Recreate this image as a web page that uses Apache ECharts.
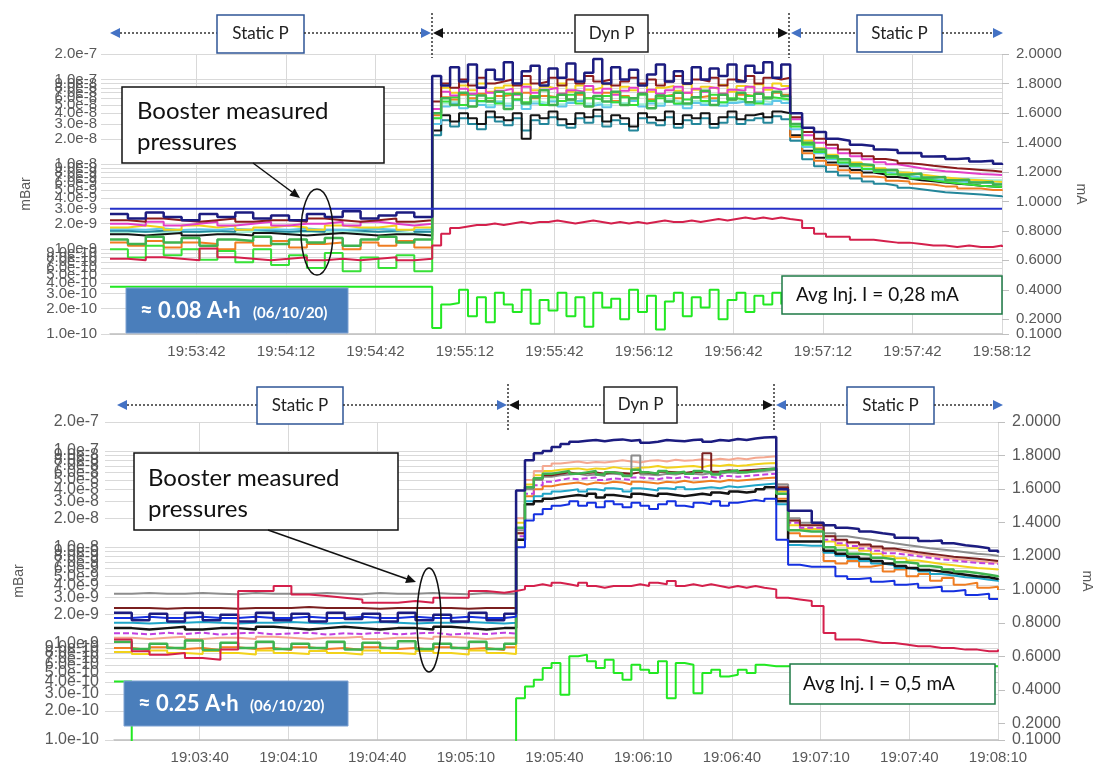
<!DOCTYPE html>
<html>
<head>
<meta charset="utf-8">
<title>Booster measured pressures</title>
<script src="https://cdn.jsdelivr.net/npm/echarts@6/dist/echarts.min.js"></script>
<style>
html, body { margin: 0; padding: 0; background: #fff; }
#main { width: 1102px; height: 770px; }
</style>
</head>
<body>
<div id="main"></div>
<script>
// seconds from the first sample of each plot
var topStart = 19 * 3600 + 53 * 60 + 13;   // 19:53:13
var botStart = 19 * 3600 + 3 * 60 + 11;    // 19:03:11
var timeTicks = [29, 59, 89, 119, 149, 179, 209, 239, 269, 299];
var pressureTicks = [2e-7, 1e-7, 9e-8, 8e-8, 7e-8, 6e-8, 5e-8, 4e-8, 3e-8, 2e-8,
    1e-8, 9e-9, 8e-9, 7e-9, 6e-9, 5e-9, 4e-9, 3e-9, 2e-9,
    1e-9, 9e-10, 8e-10, 7e-10, 6e-10, 5e-10, 4e-10, 3e-10, 2e-10, 1e-10];
var currentTicks = [0.1, 0.2, 0.4, 0.6, 0.8, 1.0, 1.2, 1.4, 1.6, 1.8, 2.0];

var topTimes = [0, 6, 12, 18, 24, 30, 36, 42, 48, 54, 60, 66, 72, 78, 84, 90, 96, 102,
    108, 111, 114, 117, 120, 123, 126, 129, 132, 135, 138, 141, 144, 147, 150, 153, 156, 159, 162, 165,
    168, 171, 174, 177, 180, 183, 186, 189, 192, 195, 198, 201, 204, 207, 210, 213, 216, 219, 222, 225,
    228, 232, 236, 240, 244, 248, 252, 256, 260, 264, 268, 272, 276, 280, 284, 288, 292, 296, 299];
var botTimes = [0, 6, 12, 18, 24, 30, 36, 42, 48, 54, 60, 66, 72, 78, 84, 90, 96, 102, 108, 114, 120, 126, 132,
    136, 139, 142, 145, 148, 151, 154, 157, 160, 163, 166, 169, 172, 175, 178, 181, 184, 187, 190, 193,
    196, 199, 202, 205, 208, 211, 214, 217, 220,
    224, 228, 232, 236, 240, 244, 248, 252, 256, 260, 264, 268, 272, 276, 280, 284, 288, 292, 296, 299];
var flatTimes = [0, 299];

// ---- 06/10/20 19:53 run, pressures in 1e-9 mBar ----
var topNavy = [2.6, 2.3, 2.7, 2.4, 2.2, 2.6, 2.4, 2.7, 2.3, 2.5, 2.2, 2.6, 2.4, 2.8, 2.3, 2.5, 2.7, 2.4,
    110, 85, 140, 95, 150, 80, 130, 100, 160, 90, 125, 145, 85, 135, 105, 155, 95, 120, 175, 90,
    140, 100, 130, 85, 115, 150, 95, 125, 90, 140, 100, 135, 110, 150, 95, 145, 120, 160, 105, 150,
    40, 27, 24, 20, 19, 17, 16.5, 15, 14.8, 13.6, 13.6, 12.4, 12.5, 11.6, 11.8, 10.8, 11, 10.2, 9.8];
var topDarkRed = [2.2, 2.1, 2.3, 2.2, 2.1, 2.2, 2.3, 2.1, 2.2, 2.2, 2.1, 2.3, 2.2, 2.1, 2.2, 2.3, 2.1, 2.2,
    55, 90, 80, 100, 85, 105, 90, 95, 100, 85, 110, 90, 95, 105, 85, 100, 90, 110, 95, 100,
    85, 95, 105, 90, 100, 85, 95, 110, 90, 100, 95, 105, 85, 100, 95, 110, 90, 105, 100, 105,
    36, 24, 20, 17, 15, 13.5, 12.5, 11.6, 11, 10.3, 10, 9.6, 9.3, 9, 8.8, 8.6, 8.4, 8.2, 8.1];
var topMagenta = [2.0, 1.9, 2.1, 1.9, 2.0, 2.1, 1.9, 2.0, 2.1, 1.9, 2.0, 2.0, 2.1, 1.9, 2.1, 2.0, 1.9, 2.0,
    45, 72, 65, 78, 68, 80, 70, 74, 78, 66, 82, 70, 76, 80, 68, 75, 72, 84, 70, 78,
    66, 74, 80, 70, 76, 68, 75, 82, 70, 78, 72, 80, 68, 76, 74, 82, 70, 80, 76, 80,
    34, 22, 18, 15.5, 13.5, 12.5, 11.5, 10.6, 10, 9.5, 9, 8.6, 8.3, 8.1, 7.9, 7.7, 7.6, 7.5, 7.4];
var topYellow = [1.8, 1.9, 1.8, 1.7, 1.9, 1.8, 1.9, 1.7, 1.8, 1.9, 1.8, 1.7, 1.9, 1.8, 1.8, 1.9, 1.7, 1.8,
    45, 80, 70, 85, 75, 90, 72, 80, 85, 70, 88, 75, 82, 78, 90, 72, 85, 76, 80, 88,
    70, 82, 75, 86, 72, 80, 84, 74, 88, 76, 82, 78, 86, 72, 84, 80, 88, 76, 90, 84,
    30, 19, 15.5, 13, 11.5, 10.5, 9.6, 9, 8.5, 8, 7.6, 7.3, 7, 6.8, 6.6, 6.5, 6.3, 6.2, 6.1];
var topGreen = [1.3, 1.15, 1.4, 1.2, 1.35, 1.1, 1.3, 1.25, 1.4, 1.15, 1.3, 1.2, 1.35, 1.1, 1.3, 1.4, 1.2, 1.3,
    40, 60, 50, 70, 48, 65, 55, 72, 45, 68, 52, 62, 75, 50, 66, 58, 70, 48, 64, 55,
    72, 50, 60, 68, 46, 65, 55, 70, 52, 62, 74, 50, 66, 58, 70, 54, 68, 60, 72, 64,
    30, 18, 15, 12.5, 11.5, 10, 9.8, 8.6, 8.6, 7.6, 7.8, 7, 7.1, 6.5, 6.6, 6.1, 6.2, 5.8, 5.9];
var topAqua = [1.58, 1.6, 1.55, 1.6, 1.58, 1.62, 1.56, 1.6, 1.58, 1.55, 1.6, 1.58, 1.62, 1.56, 1.6, 1.58, 1.55, 1.6,
    35, 52, 55, 50, 58, 54, 50, 56, 52, 58, 50, 55, 53, 57, 51, 55, 58, 52, 54, 50,
    56, 53, 58, 51, 55, 52, 57, 54, 50, 56, 53, 58, 52, 55, 57, 53, 56, 54, 58, 56,
    28, 18, 14.5, 12.5, 11, 10.2, 9.4, 8.8, 8.3, 7.9, 7.5, 7.2, 7, 6.8, 6.7, 6.6, 6.5, 6.5, 6.4];
var topSky = [1.72, 1.7, 1.75, 1.68, 1.72, 1.7, 1.74, 1.68, 1.72, 1.7, 1.75, 1.7, 1.68, 1.72, 1.74, 1.7, 1.68, 1.72,
    30, 48, 52, 46, 56, 50, 47, 54, 49, 57, 45, 52, 50, 55, 48, 53, 56, 49, 51, 47,
    54, 50, 56, 48, 52, 49, 55, 51, 46, 53, 50, 56, 49, 53, 55, 50, 54, 51, 56, 53,
    26, 16, 13.5, 11.5, 10.2, 9.4, 8.7, 8.1, 7.7, 7.3, 7, 6.7, 6.5, 6.3, 6.2, 6.1, 6, 5.9, 5.9];
var topTeal = [1.65, 1.6, 1.65, 1.7, 1.6, 1.65, 1.6, 1.7, 1.65, 1.6, 1.65, 1.6, 1.7, 1.65, 1.6, 1.65, 1.7, 1.6,
    22, 33, 28, 35, 30, 26, 36, 32, 29, 35, 25, 33, 30, 36, 29, 27, 35, 31, 37, 28,
    33, 30, 25, 35, 31, 29, 36, 27, 33, 30, 35, 27, 31, 36, 30, 33, 35, 31, 37, 34,
    19, 11.5, 9.5, 8.2, 7.4, 6.8, 6.3, 5.9, 5.6, 5.3, 5.1, 4.9, 4.7, 4.6, 4.5, 4.4, 4.3, 4.2, 4.1];
var topBlack = [1.5, 1.45, 1.5, 1.55, 1.45, 1.5, 1.5, 1.45, 1.55, 1.5, 1.45, 1.5, 1.55, 1.5, 1.45, 1.5, 1.5, 1.45,
    25, 38, 32, 40, 35, 30, 42, 36, 33, 40, 20, 38, 35, 42, 34, 30, 40, 36, 44, 32,
    38, 35, 28, 40, 36, 33, 42, 30, 38, 35, 40, 30, 36, 42, 34, 38, 40, 36, 42, 40,
    22, 14.5, 12, 10.5, 9.5, 8.6, 8, 7.6, 7.1, 6.8, 6.5, 6.3, 6.1, 5.9, 5.8, 5.6, 5.5, 5.4, 5.4];
var topOrange = [1.2, 1.1, 1.25, 1.05, 1.2, 1.15, 1.0, 1.2, 1.1, 1.25, 1.05, 1.15, 1.2, 1.0, 1.2, 1.1, 1.25, 1.05,
    38, 62, 58, 66, 60, 68, 56, 64, 66, 58, 70, 60, 64, 62, 68, 58, 66, 60, 64, 70,
    56, 64, 60, 68, 58, 64, 66, 60, 70, 62, 64, 60, 68, 58, 66, 64, 70, 60, 70, 66,
    21, 13.5, 11, 9.8, 8.5, 8, 7.2, 7, 6.4, 6.3, 5.9, 5.8, 5.5, 5.5, 5.2, 5.2, 5, 5, 4.9];
var topLime = [1.0, 0.8, 1.1, 0.85, 1.0, 0.75, 0.95, 0.7, 1.0, 0.65, 0.85, 0.6, 0.9, 0.55, 0.8, 0.6, 0.85, 0.55,
    35, 55, 62, 50, 66, 56, 60, 52, 68, 58, 54, 64, 50, 62, 56, 66, 52, 60, 58, 64,
    54, 62, 50, 66, 56, 60, 64, 52, 58, 62, 56, 66, 54, 60, 58, 64, 52, 62, 60, 58,
    28, 17, 14, 12, 10.5, 9.6, 8.8, 8.2, 7.6, 7.2, 6.8, 6.5, 6.2, 6, 5.8, 5.6, 5.5, 5.4, 5.3];
// currents in mA
var topRed = [0.61, 0.60, 0.62, 0.61, 0.60, 0.68, 0.62, 0.61, 0.60, 0.61, 0.62, 0.60, 0.61, 0.60, 0.61, 0.62, 0.60, 0.61,
    0.70, 0.78, 0.82, 0.83, 0.84, 0.84, 0.85, 0.84, 0.85, 0.86, 0.85, 0.86, 0.86, 0.87, 0.86, 0.85, 0.86, 0.87, 0.86, 0.85,
    0.86, 0.85, 0.86, 0.85, 0.86, 0.87, 0.86, 0.86, 0.87, 0.86, 0.87, 0.88, 0.87, 0.88, 0.89, 0.88, 0.89, 0.88, 0.89, 0.88,
    0.87, 0.82, 0.78, 0.76, 0.76, 0.74, 0.74, 0.73, 0.72, 0.72, 0.71, 0.70, 0.70, 0.69, 0.70, 0.69, 0.69, 0.70, 0.69];
var topInjection = [0.42, 0.42, 0.42, 0.42, 0.42, 0.42, 0.42, 0.42, 0.42, 0.42, 0.42, 0.42, 0.42, 0.42, 0.42, 0.42, 0.42, 0.42,
    0.14, 0.30, 0.31, 0.40, 0.22, 0.35, 0.18, 0.38, 0.30, 0.25, 0.40, 0.17, 0.33, 0.26, 0.38, 0.22, 0.35, 0.15, 0.38, 0.28,
    0.34, 0.20, 0.40, 0.25, 0.36, 0.13, 0.32, 0.38, 0.22, 0.35, 0.28, 0.40, 0.20, 0.33, 0.38, 0.25, 0.36, 0.30, 0.38, 0.30];
var topBlue = [0.95, 0.95];

// ---- 06/10/20 19:03 run, pressures in 1e-9 mBar ----
var botNavy = [2.1, 1.75, 2.05, 1.7, 2.1, 1.75, 2.0, 1.7, 2.1, 1.75, 2.05, 1.7, 2.1, 1.8, 2.05, 1.7, 2.1, 1.75, 2.0, 1.7, 2.1, 1.75, 2.05,
    39, 80, 95, 100, 110, 118, 125, 128, 130, 126, 130, 132, 128, 130, 122, 125, 130, 128, 126, 130, 132, 125, 130, 128, 133, 130, 135, 138, 140,
    40, 24, 24, 18, 17, 16, 15.5, 14.6, 14, 13.5, 12.6, 12.5, 11.6, 11.8, 11, 10.5, 10.2, 9.8, 9.2, 8.8];
var botBlue = [1.85, 1.9, 1.85, 1.85, 1.9, 1.85, 1.85, 1.9, 1.85, 1.85, 1.9, 1.85, 1.85, 1.9, 1.85, 1.85, 1.9, 1.85, 1.85, 1.9, 1.85, 1.85, 1.9,
    10, 19, 22, 25, 27, 28, 30, 27, 29, 26, 30, 28, 26, 29, 27, 25, 28, 30, 27, 26, 29, 28, 30, 27, 29, 30, 31, 30, 32,
    12, 6.6, 6.3, 6.3, 6.3, 5.0, 4.7, 4.8, 4.4, 4.5, 4.1, 4.2, 3.8, 3.9, 3.5, 3.6, 3.2, 3.3, 2.9, 2.9];
var botGray = [3.3, 3.35, 3.3, 3.3, 3.35, 3.3, 3.25, 3.35, 3.3, 3.3, 3.3, 3.35, 3.3, 3.25, 3.35, 3.3, 3.3, 3.35, 3.3, 3.25, 3.35, 3.3, 3.3,
    15, 40, 50, 54, 56, 57, 58, 56, 57, 55, 58, 57, 56, 90, 57, 56, 58, 57, 59, 58, 57, 59, 58, 60, 59, 60, 61, 62, 64,
    45, 20, 18, 18, 14, 13, 12.5, 12, 11.5, 11, 10.6, 10.2, 9.8, 9.5, 9.2, 8.9, 8.6, 8.4, 8.2, 8.0];
var botMaroon = [2.35, 2.35, 2.3, 2.35, 2.35, 2.35, 2.3, 2.35, 2.35, 2.35, 2.4, 2.35, 2.35, 2.35, 2.3, 2.35, 2.35, 2.35, 2.35, 2.3, 2.35, 2.35, 2.35,
    14, 42, 52, 56, 58, 60, 58, 59, 60, 58, 60, 59, 58, 60, 59, 58, 61, 60, 59, 61, 60, 95, 61, 63, 62, 63, 64, 65, 66,
    42, 19, 17, 17, 13, 12, 11.3, 10.7, 10.2, 9.7, 9.3, 8.9, 8.6, 8.3, 8.0, 7.8, 7.6, 7.4, 7.2, 7.1];
var botMagenta = [1.28, 1.25, 1.3, 1.26, 1.3, 1.24, 1.28, 1.3, 1.25, 1.28, 1.3, 1.24, 1.28, 1.26, 1.3, 1.25, 1.28, 1.3, 1.24, 1.28, 1.26, 1.3, 1.27,
    13, 36, 44, 48, 50, 52, 51, 52, 53, 50, 52, 51, 50, 53, 52, 51, 53, 52, 54, 52, 53, 54, 52, 55, 54, 55, 56, 57, 58,
    40, 18, 16, 16, 12, 11, 10.3, 9.7, 9.2, 8.7, 8.4, 8.1, 7.8, 7.5, 7.3, 7.1, 6.9, 6.8, 6.7, 6.6];
var botSalmon = [1.15, 1.12, 1.15, 1.18, 1.12, 1.15, 1.15, 1.12, 1.18, 1.15, 1.12, 1.15, 1.15, 1.18, 1.12, 1.15, 1.15, 1.12, 1.18, 1.15, 1.12, 1.15, 1.15,
    20, 50, 62, 70, 74, 76, 78, 75, 77, 76, 78, 80, 78, 76, 79, 80, 78, 81, 79, 80, 82, 80, 83, 81, 84, 82, 85, 86, 88,
    45, 19, 17, 17, 13, 11.8, 11, 10.3, 9.8, 9.3, 8.9, 8.5, 8.2, 7.9, 7.6, 7.4, 7.2, 7.0, 6.9, 6.8];
var botYellow = [0.82, 0.78, 0.85, 0.8, 0.78, 0.84, 0.8, 0.77, 0.85, 0.8, 0.78, 0.84, 0.8, 0.77, 0.85, 0.8, 0.78, 0.84, 0.8, 0.77, 0.85, 0.8, 0.78,
    18, 45, 56, 62, 64, 65, 66, 64, 66, 65, 68, 66, 65, 67, 68, 70, 67, 68, 69, 70, 68, 71, 70, 72, 70, 71, 73, 74, 75,
    38, 17, 15.5, 15.5, 11.5, 10.5, 9.8, 9.2, 8.6, 8.1, 7.7, 7.3, 7.0, 6.7, 6.5, 6.3, 6.1, 6.0, 5.9, 5.8];
var botGreen = [1.05, 0.88, 1.0, 0.9, 1.08, 0.86, 1.02, 0.9, 1.05, 0.88, 1.0, 0.9, 1.05, 0.87, 1.02, 0.9, 1.06, 0.88, 1.0, 0.9, 1.05, 0.88, 1.0,
    16, 42, 52, 58, 60, 62, 58, 60, 62, 57, 60, 58, 55, 64, 60, 58, 62, 59, 61, 58, 62, 60, 57, 61, 63, 60, 62, 64, 66,
    36, 15, 14.6, 14.6, 10, 9.4, 8.6, 8.4, 7.8, 7.5, 7.0, 6.8, 6.4, 6.2, 5.9, 5.6, 5.4, 5.2, 5.0, 4.9];
var botBlack = [1.45, 1.4, 1.45, 1.5, 1.4, 1.45, 1.45, 1.4, 1.5, 1.45, 1.4, 1.45, 1.5, 1.45, 1.4, 1.45, 1.45, 1.4, 1.5, 1.45, 1.4, 1.45, 1.45,
    12, 28, 30, 32, 33, 34, 35, 34, 36, 33, 35, 34, 33, 36, 35, 34, 36, 35, 34, 35, 36, 35, 37, 36, 38, 37, 38, 40, 42,
    30, 11.5, 11.5, 11.5, 9.2, 8.6, 8.0, 7.6, 7.2, 6.8, 6.4, 6.1, 5.8, 5.6, 5.4, 5.2, 5.0, 4.9, 4.7, 4.6];
var botTeal = [1.65, 1.62, 1.65, 1.65, 1.68, 1.65, 1.62, 1.65, 1.65, 1.68, 1.65, 1.62, 1.65, 1.65, 1.68, 1.65, 1.62, 1.65, 1.65, 1.68, 1.65, 1.62, 1.65,
    12, 30, 34, 36, 38, 39, 40, 38, 40, 39, 41, 40, 38, 41, 40, 39, 41, 40, 42, 40, 41, 42, 41, 43, 42, 43, 44, 45, 46,
    28, 10.6, 10.4, 10.4, 8.8, 8.2, 7.6, 7.2, 6.8, 6.5, 6.1, 5.9, 5.6, 5.3, 5.1, 4.9, 4.8, 4.6, 4.5, 4.4];
var botOrange = [0.9, 0.86, 0.92, 0.88, 0.9, 0.86, 0.92, 0.88, 0.9, 0.86, 0.92, 0.88, 0.9, 0.86, 0.92, 0.88, 0.9, 0.86, 0.92, 0.88, 0.9, 0.86, 0.92,
    14, 34, 40, 43, 45, 46, 47, 45, 47, 46, 48, 47, 45, 48, 47, 46, 48, 47, 49, 47, 48, 49, 48, 50, 49, 50, 51, 52, 53,
    32, 14, 13, 13, 7.2, 6.8, 7.2, 6.3, 6.6, 5.6, 5.9, 5.0, 5.3, 4.5, 4.8, 4.1, 4.3, 3.8, 3.9, 3.6];
// currents in mA
var botRed = [0.70, 0.63, 0.61, 0.62, 0.59, 0.58, 0.64, 0.99, 0.99, 1.02, 0.97, 0.96, 0.95, 0.94, 0.92, 0.92, 0.93, 0.92, 0.95, 0.95, 0.99, 0.98, 0.99,
    1.0, 1.02, 1.03, 1.02, 1.04, 1.03, 1.02, 1.04, 1.02, 1.01, 1.02, 1.02, 1.02, 1.03, 1.02, 1.04, 1.03, 1.05, 1.02, 1.03, 1.02, 1.03, 1.02, 1.01, 1.02, 1.01, 1.02, 1.01, 1.0,
    0.95, 0.94, 0.93, 0.90, 0.74, 0.70, 0.70, 0.69, 0.68, 0.68, 0.67, 0.66, 0.66, 0.65, 0.65, 0.64, 0.64, 0.63, 0.63, 0.64];
var botInjection = [0.45, 0, 0, 0, 0, 0, 0, 0, 0, 0, 0, 0, 0, 0, 0, 0, 0, 0, 0, 0, 0, 0, 0,
    0.35, 0.42, 0.46, 0.53, 0.56, 0.37, 0.6, 0.61, 0.57, 0.53, 0.58, 0.5, 0.46, 0.55, 0.52, 0.5, 0.57, 0.35, 0.56, 0.55,
    0.38, 0.5, 0.52, 0.48, 0.49, 0.52, 0.5, 0.55, 0.54,
    0.54, 0.54, 0.54, 0.54, 0.54, 0.54, 0.54, 0.54, 0.54, 0.54, 0.54, 0.54, 0.54, 0.54, 0.54, 0.54, 0.54, 0.54, 0.54, 0.54];

var GRID = '#d9d9d9';
var LABEL = '#595959';
var BLUE = '#4472c4';
var logTicks = pressureTicks.map(function (p) { return Math.log10(p); });
// the tight 0.1 / 0.2 pair on the short top plot is labelled by a second, bare right axis
var topCurrentMain = currentTicks.filter(function (v) { return v !== 0.2; });

function pad(n) { return n < 10 ? '0' + n : '' + n; }
function hms(s) {
    s = Math.round(s);
    return Math.floor(s / 3600) + ':' + pad(Math.floor(s % 3600 / 60)) + ':' + pad(s % 60);
}
function fmtPressure(v) {
    var e = Math.floor(v + 1e-6);
    return Math.pow(10, v - e).toFixed(1) + 'e' + e;
}
function fmtCurrent(v) { return v.toFixed(4); }

function timeAxis(gi, start) {
    return {
        type: 'value', gridIndex: gi, min: 0, max: 299,
        axisLine: {lineStyle: {color: '#bfbfbf', width: 1.5}},
        axisTick: {show: false, customValues: timeTicks},
        axisLabel: {customValues: timeTicks, color: LABEL, fontSize: 15, fontFamily: 'Liberation Sans', margin: 10,
            formatter: function (v) { return hms(start + v); }},
        splitLine: {show: true, lineStyle: {color: GRID}}
    };
}
function pressureAxis(gi, size, gap, margin) {
    return {
        type: 'value', gridIndex: gi, position: 'left', min: -10, max: Math.log10(2e-7),
        name: 'mBar', nameLocation: 'middle', nameGap: gap, nameRotate: 90,
        nameTextStyle: {color: LABEL, fontSize: 14, fontFamily: 'Liberation Sans'},
        axisLine: {show: false},
        axisTick: {show: true, length: 9, customValues: logTicks, lineStyle: {color: GRID}},
        axisLabel: {customValues: logTicks, formatter: fmtPressure, color: LABEL, fontSize: size,
            fontFamily: 'Liberation Sans', margin: margin, showMinLabel: true, showMaxLabel: true},
        splitLine: {show: true, lineStyle: {color: GRID}}
    };
}
function currentAxis(gi, size, gap, labels) {
    return {
        type: 'value', gridIndex: gi, position: 'right', min: 0.1, max: 2.0,
        name: 'mA', nameLocation: 'middle', nameGap: gap, nameRotate: -90,
        nameTextStyle: {color: LABEL, fontSize: 14, fontFamily: 'Liberation Sans'},
        axisLine: {show: false},
        axisTick: {show: true, length: 7, customValues: currentTicks, lineStyle: {color: '#bfbfbf'}},
        axisLabel: {customValues: labels, color: LABEL, fontSize: size, fontFamily: 'Liberation Sans', margin: 14,
            showMinLabel: true, showMaxLabel: true, formatter: fmtCurrent},
        splitLine: {show: false}
    };
}
function extraCurrentAxis(gi, size, labels) {
    return {
        type: 'value', gridIndex: gi, position: 'right', min: 0.1, max: 2.0,
        axisLine: {show: false}, axisTick: {show: false}, splitLine: {show: false},
        axisLabel: {customValues: labels, color: LABEL, fontSize: size, fontFamily: 'Liberation Sans', margin: 14,
            formatter: fmtCurrent}
    };
}

function pressure(name, vals, times, color, width, gi, dash) {
    return {
        name: name, type: 'line', step: 'end', symbol: 'none', xAxisIndex: gi, yAxisIndex: gi * 2,
        lineStyle: {color: color, width: width, type: dash || 'solid'},
        data: vals.map(function (v, i) { return [times[i], Math.log10(v) - 9]; })
    };
}
function current(name, vals, times, color, width, gi) {
    return {
        name: name, type: 'line', step: 'end', symbol: 'none', xAxisIndex: gi, yAxisIndex: gi * 2 + 1,
        lineStyle: {color: color, width: width},
        data: vals.map(function (v, i) { return [times[i], v]; })
    };
}

// annotations
var g = [];
function tri(pts, c) { g.push({type: 'polygon', z: 100, shape: {points: pts}, style: {fill: c}}); }
function arrowL(x, y, c) { tri([[x, y], [x + 10, y - 5], [x + 10, y + 5]], c); }
function arrowR(x, y, c) { tri([[x, y], [x - 10, y - 5], [x - 10, y + 5]], c); }
function dotted(x1, y1, x2, y2) {
    g.push({type: 'line', z: 100, shape: {x1: x1, y1: y1, x2: x2, y2: y2},
        style: {stroke: '#333', lineWidth: 1.5, lineDash: [2, 2]}});
}
function box(x1, y1, x2, y2, stroke, fill, lw) {
    g.push({type: 'rect', z: 100, shape: {x: x1, y: y1, width: x2 - x1, height: y2 - y1},
        style: {fill: fill || '#fff', stroke: stroke, lineWidth: lw || 1.5}});
}
function label(x, y, text, font, color, align) {
    g.push({type: 'text', z: 101, x: x, y: y, style: {text: text, font: font, fill: color || '#222',
        align: align || 'center', textAlign: align || 'center', verticalAlign: 'middle', textVerticalAlign: 'middle'}});
}
function pointer(x1, y1, x2, y2, head) {
    g.push({type: 'line', z: 100, shape: {x1: x1, y1: y1, x2: x2, y2: y2}, style: {stroke: '#111', lineWidth: 1.5}});
    tri(head, '#111');
}
function ring(cx, cy, rx, ry) {
    g.push({type: 'ellipse', z: 100, shape: {cx: cx, cy: cy, rx: rx, ry: ry},
        style: {fill: null, stroke: '#111', lineWidth: 1.5}});
}
var boxFont = '17px Lato';
var bigFont = '24px Lato';

// top header
arrowL(110, 33, BLUE); dotted(120, 33, 217, 33); box(217, 15, 304, 53, '#2f5597'); label(260.5, 34, 'Static P', boxFont);
dotted(304, 33, 421, 33); arrowR(431, 33, BLUE);
dotted(432, 13, 432, 58);
arrowL(433, 33, '#111'); dotted(443, 33, 575, 33); box(575, 15, 648, 52, '#222'); label(611.5, 33.5, 'Dyn P', boxFont);
dotted(648, 33, 778, 33); arrowR(788, 33, '#111');
dotted(789, 13, 789, 58);
arrowL(791, 33, BLUE); dotted(801, 33, 857, 33); box(857, 15, 942, 52, '#2f5597'); label(899.5, 33.5, 'Static P', boxFont);
dotted(942, 33, 993, 33); arrowR(1003, 33, BLUE);

// bottom header
arrowL(117, 405, BLUE); dotted(127, 405, 257, 405); box(257, 387, 343, 424, '#2f5597'); label(300, 405.5, 'Static P', boxFont);
dotted(343, 405, 497, 405); arrowR(507, 405, BLUE);
dotted(508, 384, 508, 430);
arrowL(509, 405, '#111'); dotted(519, 405, 604, 405); box(604, 387, 677, 423, '#222'); label(640.5, 405, 'Dyn P', boxFont);
dotted(677, 405, 763, 405); arrowR(773, 405, '#111');
dotted(774, 384, 774, 430);
arrowL(776, 405, BLUE); dotted(786, 405, 847, 405); box(847, 387, 934, 424, '#2f5597'); label(890.5, 405.5, 'Static P', boxFont);
dotted(934, 405, 993, 405); arrowR(1003, 405, BLUE);

// callouts
box(122, 87, 384, 163, '#111');
label(137, 111, 'Booster measured', bigFont, '#111', 'left');
label(137, 142, 'pressures', bigFont, '#111', 'left');
pointer(253, 163, 292, 192, [[300, 198], [289.3, 195.6], [294.7, 188.4]]);
ring(317, 232, 16, 43);

box(134, 453, 398, 530, '#111');
label(148, 478, 'Booster measured', bigFont, '#111', 'left');
label(148, 509, 'pressures', bigFont, '#111', 'left');
pointer(268, 530, 407, 579, [[416, 582], [405.1, 582.9], [408.1, 574.5]]);
ring(429, 620, 12, 52);

box(126, 288, 348, 333, '#7da1d2', '#4a7ebb', 1);
label(140, 311, '≈ 0.08 A·h', 'bold 22px Lato', '#fff', 'left');
label(253, 313, '(06/10/20)', 'bold 15px Lato', '#fff', 'left');
box(124, 681, 348, 726, '#7da1d2', '#4a7ebb', 1);
label(138, 704, '≈ 0.25 A·h', 'bold 22px Lato', '#fff', 'left');
label(250, 706, '(06/10/20)', 'bold 15px Lato', '#fff', 'left');

box(782, 276, 1002, 314, '#1e7a46');
label(796, 295, 'Avg Inj. I = 0,28 mA', '19px Lato', '#111', 'left');
box(790, 664, 995, 704, '#1e7a46');
label(803, 684, 'Avg Inj. I = 0,5 mA', '19px Lato', '#111', 'left');

var chart = echarts.init(document.getElementById('main'));
chart.setOption({
    animation: false,
    backgroundColor: '#fff',
    textStyle: {fontFamily: 'Liberation Sans'},
    grid: [
        {left: 110, top: 54, width: 892, height: 280},
        {left: 114, top: 422, width: 886, height: 318}
    ],
    xAxis: [timeAxis(0, topStart), timeAxis(1, botStart)],
    yAxis: [
        pressureAxis(0, 15, 77, 13), currentAxis(0, 15, 72, topCurrentMain),
        pressureAxis(1, 16, 88, 15), currentAxis(1, 16, 82, currentTicks),
        extraCurrentAxis(0, 15, [0.2])
    ],
    series: [
        pressure('aqua', topAqua, topTimes, '#9ff0d8', 2, 0),
        pressure('teal', topTeal, topTimes, '#23869a', 2, 0),
        pressure('black', topBlack, topTimes, '#141414', 2, 0),
        pressure('orange', topOrange, topTimes, '#ef7d22', 2, 0),
        pressure('sky', topSky, topTimes, '#5fc6e8', 2, 0),
        pressure('lime', topLime, topTimes, '#37e037', 2, 0),
        pressure('yellow', topYellow, topTimes, '#f2d21b', 2, 0),
        pressure('magenta', topMagenta, topTimes, '#e23fc8', 2, 0),
        pressure('dark red', topDarkRed, topTimes, '#8b1c1c', 2, 0),
        pressure('green', topGreen, topTimes, '#3fb34f', 2.5, 0),
        pressure('navy', topNavy, topTimes, '#1c1c80', 2.5, 0),
        current('beam', topBlue, flatTimes, '#2430c8', 2, 0),
        current('red', topRed, topTimes, '#d4204c', 2, 0),
        current('injection', topInjection, topTimes, '#22e822', 2, 0),

        pressure('orange', botOrange, botTimes, '#ef7d22', 2, 1),
        pressure('yellow', botYellow, botTimes, '#f2d21b', 2, 1),
        pressure('teal', botTeal, botTimes, '#1fa5c8', 2, 1),
        pressure('salmon', botSalmon, botTimes, '#f4a890', 2, 1),
        pressure('magenta', botMagenta, botTimes, '#c040e0', 2, 1, [6, 3]),
        pressure('black', botBlack, botTimes, '#141414', 2.5, 1),
        pressure('gray', botGray, botTimes, '#8c8c8c', 2, 1),
        pressure('maroon', botMaroon, botTimes, '#7a1f1f', 2, 1),
        pressure('green', botGreen, botTimes, '#3fb34f', 2.5, 1),
        pressure('blue', botBlue, botTimes, '#1530e0', 2, 1),
        pressure('navy', botNavy, botTimes, '#1c1c80', 2.5, 1),
        current('red', botRed, botTimes, '#d4204c', 2, 1),
        current('injection', botInjection, botTimes, '#22e822', 2, 1)
    ],
    graphic: g
});
</script>
</body>
</html>
